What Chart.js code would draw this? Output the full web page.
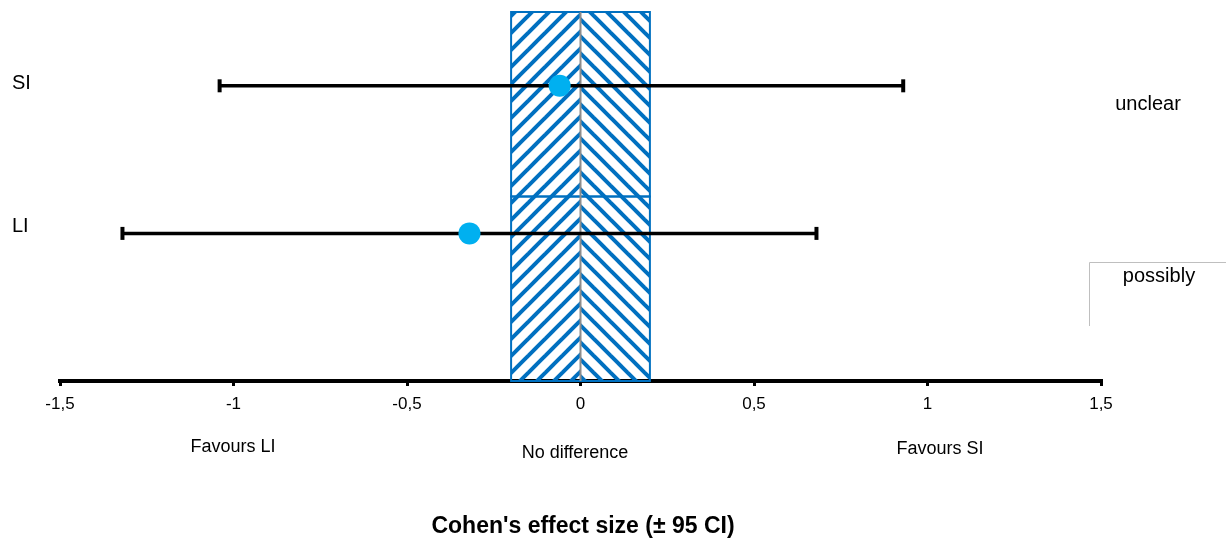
<!DOCTYPE html>
<html>
<head>
<meta charset="utf-8">
<script src="https://cdn.jsdelivr.net/npm/chart.js@4"></script>
<style>
  html, body { margin: 0; padding: 0; background: #fff; }
  #wrap { width: 1226px; height: 543px; }
</style>
</head>
<body>
<div id="wrap"><canvas id="forest" width="1226" height="543"></canvas></div>
<script>
// Effect sizes with 95% CI
const groups = ['SI', 'LI'];
const effect = [-0.06, -0.32];
const ciLow = [-1.04, -1.32];
const ciHigh = [0.93, 0.68];
const rowPos = [1.6, 0.8];

// "no difference" band (two stacked hatched boxes)
const bandLow = -0.2;
const bandHigh = 0.2;
const bandRows = [[0, 1], [1, 2]];

const tickValues = [-1.5, -1, -0.5, 0, 0.5, 1, 1.5];
const tickLabels = ['-1,5', '-1', '-0,5', '0', '0,5', '1', '1,5'];

const zoneLabels = ['Favours LI', 'No difference', 'Favours SI'];
const inferenceLabels = ['unclear', 'possibly'];
const axisTitle = "Cohen's effect size (\u00b1 95 CI)";

const BLUE = '#0070c0';
const FONT = '"Liberation Sans", Arial, sans-serif';

// stripe tile: '/' or '\'
function makeHatch(ctx, dir) {
  const s = 17;
  const c = document.createElement('canvas');
  c.width = s; c.height = s;
  const g = c.getContext('2d');
  g.strokeStyle = BLUE;
  g.lineWidth = 4;
  for (const o of [-s, 0, s]) {
    g.beginPath();
    if (dir === '/') { g.moveTo(o - s, 2 * s); g.lineTo(o + 2 * s, -s); }
    else { g.moveTo(o - s, -s); g.lineTo(o + 2 * s, 2 * s); }
    g.stroke();
  }
  return ctx.createPattern(c, 'repeat');
}

const bandPlugin = {
  id: 'band',
  beforeDatasetsDraw(chart) {
    const { ctx, scales: { x, y } } = chart;
    const xl = x.getPixelForValue(bandLow);
    const xr = x.getPixelForValue(bandHigh);
    const x0 = x.getPixelForValue(0);
    const up = makeHatch(ctx, '/');
    const down = makeHatch(ctx, '\\');
    ctx.save();
    bandRows.forEach(([lo, hi]) => {
      const yt = y.getPixelForValue(hi);
      const yb = y.getPixelForValue(lo);
      ctx.fillStyle = up;
      ctx.fillRect(xl, yt, x0 - xl, yb - yt);
      ctx.fillStyle = down;
      ctx.fillRect(x0, yt, xr - x0, yb - yt);
      ctx.strokeStyle = BLUE;
      ctx.lineWidth = 2;
      ctx.strokeRect(xl, yt, xr - xl, yb - yt);
    });
    // zero line
    ctx.strokeStyle = '#8c8c8c';
    ctx.lineWidth = 2;
    ctx.beginPath();
    ctx.moveTo(x0, y.getPixelForValue(2));
    ctx.lineTo(x0, y.getPixelForValue(0));
    ctx.stroke();
    ctx.restore();
  }
};

const textPlugin = {
  id: 'texts',
  afterDraw(chart) {
    const { ctx } = chart;
    ctx.save();
    ctx.fillStyle = '#000';
    ctx.textBaseline = 'middle';

    ctx.font = '20px ' + FONT;
    ctx.textAlign = 'left';
    ctx.fillText(groups[0], 12, 83);
    ctx.fillText(groups[1], 12, 226);

    ctx.font = '18px ' + FONT;
    ctx.textAlign = 'center';
    ctx.fillText(zoneLabels[0], 233, 447);
    ctx.fillText(zoneLabels[1], 575, 453);
    ctx.fillText(zoneLabels[2], 940, 449);

    ctx.font = '20px ' + FONT;
    ctx.fillText(inferenceLabels[0], 1148, 104);
    ctx.fillText(inferenceLabels[1], 1159, 276);

    ctx.strokeStyle = '#bfbfbf';
    ctx.lineWidth = 1;
    ctx.beginPath();
    ctx.moveTo(1089.5, 326);
    ctx.lineTo(1089.5, 262.5);
    ctx.lineTo(1226, 262.5);
    ctx.stroke();

    ctx.font = 'bold 23px ' + FONT;
    ctx.fillText(axisTitle, 583, 527);
    ctx.restore();
  }
};

const ciSets = groups.map((g, i) => ({
  type: 'line',
  label: g + ' CI',
  data: [{ x: ciLow[i], y: rowPos[i] }, { x: ciHigh[i], y: rowPos[i] }],
  showLine: true,
  borderColor: '#000',
  borderWidth: 3.5,
  pointStyle: 'line',
  pointRotation: 90,
  pointRadius: 6.5,
  pointBorderWidth: 4,
  pointBorderColor: '#000',
  order: 1,
  clip: false
}));

new Chart(document.getElementById('forest'), {
  type: 'scatter',
  data: {
    datasets: [
      {
        label: 'Effect',
        data: groups.map((g, i) => ({ x: effect[i], y: rowPos[i] })),
        pointRadius: 11,
        pointBackgroundColor: '#00b0f0',
        pointBorderWidth: 0,
        order: 0
      },
      ...ciSets
    ]
  },
  options: {
    responsive: false,
    animation: false,
    layout: { padding: { left: 60, right: 125, top: 12, bottom: 132 } },
    plugins: { legend: { display: false }, tooltip: { enabled: false } },
    scales: {
      x: {
        type: 'linear',
        min: -1.5,
        max: 1.5,
        afterBuildTicks: s => { s.ticks = tickValues.map(v => ({ value: v })); },
        afterFit: s => { s.height = 30; },
        ticks: {
          color: '#000',
          padding: 8,
          font: { family: FONT, size: 17 },
          callback: v => tickLabels[tickValues.indexOf(v)]
        },
        grid: { display: true, drawOnChartArea: false, drawTicks: true, tickLength: 5, color: '#000', lineWidth: 3 },
        border: { display: true, color: '#000', width: 4 }
      },
      y: { min: 0, max: 2, display: false }
    }
  },
  plugins: [bandPlugin, textPlugin]
});
</script>
</body>
</html>
